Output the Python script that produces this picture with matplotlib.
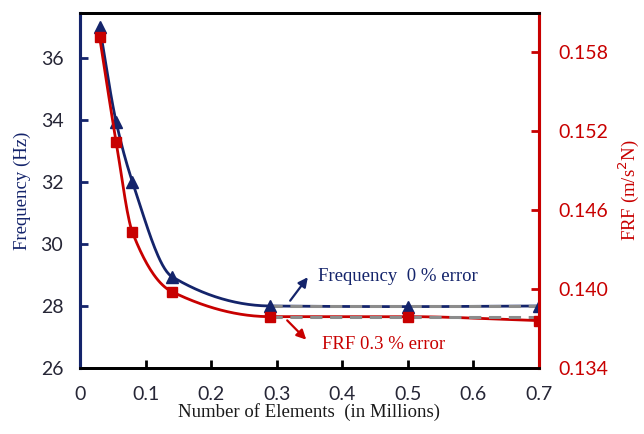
import numpy as np
import matplotlib
matplotlib.use("Agg")
import matplotlib.pyplot as plt

# Data
elements = [0.03, 0.055, 0.08, 0.14, 0.29, 0.5, 0.7]
frequency = [37.0, 33.95, 32.0, 28.95, 28.0, 27.98, 28.0]
frf = [0.1591, 0.1512, 0.1443, 0.1398, 0.1379, 0.1379, 0.1376]
xticks = [0, 0.1, 0.2, 0.3, 0.4, 0.5, 0.6, 0.7]
xticklabels = ["0", "0.1", "0.2", "0.3", "0.4", "0.5", "0.6", "0.7"]
yticks_left = [26, 28, 30, 32, 34, 36]
yticks_right = [0.134, 0.140, 0.146, 0.152, 0.158]

NAVY = "#14246b"
RED = "#c80000"
TICKC = "#262636"


def pchip(x, y, xs):
    x = np.asarray(x, float); y = np.asarray(y, float)
    h = np.diff(x); d = np.diff(y) / h
    n = len(x); m = np.zeros(n)
    for k in range(1, n - 1):
        if d[k - 1] * d[k] <= 0:
            m[k] = 0
        else:
            w1 = 2 * h[k] + h[k - 1]; w2 = h[k] + 2 * h[k - 1]
            m[k] = (w1 + w2) / (w1 / d[k - 1] + w2 / d[k])
    m[0] = d[0]; m[-1] = d[-1]
    out = np.empty_like(xs)
    for i, xv in enumerate(xs):
        k = min(max(np.searchsorted(x, xv) - 1, 0), n - 2)
        t = (xv - x[k]) / h[k]
        h00 = 2 * t**3 - 3 * t**2 + 1; h10 = t**3 - 2 * t**2 + t
        h01 = -2 * t**3 + 3 * t**2; h11 = t**3 - t**2
        out[i] = h00 * y[k] + h10 * h[k] * m[k] + h01 * y[k + 1] + h11 * h[k] * m[k + 1]
    return out


fig = plt.figure(figsize=(6.44, 4.34), dpi=100)
ax = fig.add_axes([80 / 644, 1 - 368 / 434, 459 / 644, 355 / 434])
ax2 = ax.twinx()

xs = np.linspace(elements[0], elements[-1], 400)
ax.plot(xs, pchip(elements, frequency, xs), color=NAVY, lw=2, zorder=3)
ax.plot(elements, frequency, ls="none", marker="^", ms=9, color=NAVY, zorder=5)
ax2.plot(xs, pchip(elements, frf, xs), color=RED, lw=2, zorder=3)
ax2.plot(elements, frf, ls="none", marker="s", ms=7.5, color=RED, zorder=5)

# dashed reference lines
ax.plot([elements[4], elements[-1]], [frequency[4], frequency[4]], color="#8c8c8c",
        ls=(0, (4, 2.5)), lw=2.2, zorder=4)
ax2.plot([elements[4], elements[-1]], [frf[4], frf[4]], color="#8c8c8c",
         ls=(0, (4, 2.5)), lw=2.2, zorder=4)

ax.set_xlim(0, 0.7)
ax.set_ylim(26, 37.45)
ax2.set_ylim(0.134, 0.16096)
ax.set_xticks(xticks)
ax.set_xticklabels(xticklabels)
ax.set_yticks(yticks_left)
ax2.set_yticks(yticks_right)
ax2.set_yticklabels([f"{v:.3f}" for v in yticks_right])

for lab in ax.get_xticklabels() + ax.get_yticklabels():
    lab.set_fontfamily("Lato"); lab.set_fontsize(14); lab.set_color(TICKC)
for lab in ax2.get_yticklabels():
    lab.set_fontfamily("Lato"); lab.set_fontsize(14); lab.set_color(RED)

ax.tick_params(axis="x", direction="in", length=6, width=2, color="black", pad=13)
ax.tick_params(axis="y", direction="in", length=6, width=2, color=NAVY, pad=12)
ax2.tick_params(axis="y", direction="in", length=6, width=2, color=RED, pad=14)

for a in (ax, ax2):
    a.spines["top"].set_color("black"); a.spines["top"].set_linewidth(2)
    a.spines["bottom"].set_color("black"); a.spines["bottom"].set_linewidth(2)
    a.spines["left"].set_color(NAVY); a.spines["left"].set_linewidth(2.2)
    a.spines["right"].set_color(RED); a.spines["right"].set_linewidth(2.2)

ax.set_xlabel("Number of Elements  (in Millions)", family="Liberation Serif", fontsize=13.5,
              color="#1a1a1a", labelpad=0)
ax.set_ylabel("Frequency (Hz)", family="Liberation Serif", fontsize=13.5, color=NAVY, labelpad=7)
ax2.set_ylabel("FRF (m/s$^2$N)", family="Liberation Serif", fontsize=13.5, color=RED, labelpad=6)

ax.annotate("", xy=(0.35, 29.0), xytext=(0.318, 28.1),
            arrowprops=dict(arrowstyle="-|>", color=NAVY, lw=1.6, mutation_scale=14))
ax.text(0.363, 28.95, "Frequency  0 % error", family="Liberation Serif", fontsize=13.5,
        color=NAVY, va="center", ha="left")
ax.annotate("", xy=(0.348, 26.85), xytext=(0.313, 27.6),
            arrowprops=dict(arrowstyle="-|>", color=RED, lw=1.6, mutation_scale=14))
ax.text(0.369, 26.75, "FRF 0.3 % error", family="Liberation Serif", fontsize=13.5,
        color=RED, va="center", ha="left")

fig.savefig("out.png", dpi=100)
